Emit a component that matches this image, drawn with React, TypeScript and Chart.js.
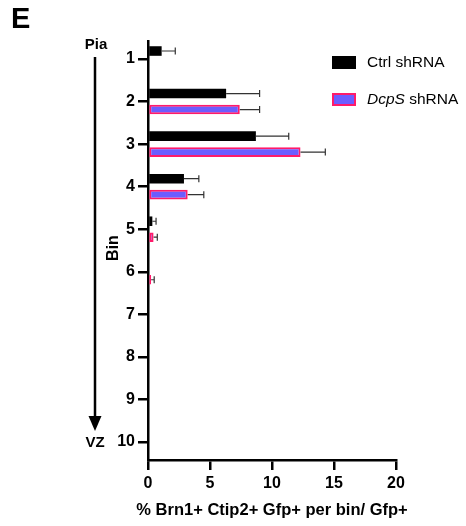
import React, { useEffect, useRef } from 'react';
import { Chart, registerables } from 'chart.js';

Chart.register(...registerables);

const bins = [1, 2, 3, 4, 5, 6, 7, 8, 9, 10];
const ctrlMean: (number | null)[] = [1.1, 6.3, 8.7, 2.9, 0.35, null, null, null, null, null];
const ctrlErr: number[] = [1.1, 2.7, 2.65, 1.2, 0.3, 0, 0, 0, 0, 0];
const dcpsMean: (number | null)[] = [null, 7.4, 12.3, 3.2, 0.45, 0.25, null, null, null, null];
const dcpsErr: number[] = [0, 1.6, 2.0, 1.3, 0.3, 0.25, 0, 0, 0, 0];
const xTicks = [0, 5, 10, 15, 20];
const seriesNames = ['Ctrl shRNA', 'DcpS shRNA'];
const xTitle = '% Brn1+ Ctip2+ Gfp+ per bin/ Gfp+';

const FONT = '"Liberation Sans", Arial, sans-serif';
const DCPS_FILL = '#6c5cff';
const DCPS_BORDER = '#ff1a6a';

function toPoints(means: (number | null)[]) {
  const pts: { x: number; y: number }[] = [];
  means.forEach((m, i) => {
    if (m !== null) pts.push({ x: m, y: bins[i] });
  });
  return pts;
}

const errorBarPlugin = {
  id: 'errorBars',
  afterDatasetsDraw(chart: any) {
    const ctx = chart.ctx;
    const xs = chart.scales.x;
    const errs = [ctrlErr, dcpsErr];
    chart.data.datasets.forEach((ds: any, di: number) => {
      const meta = chart.getDatasetMeta(di);
      meta.data.forEach((el: any, j: number) => {
        const pt = ds.data[j];
        const binIdx = bins.indexOf(pt.y);
        const e = errs[di][binIdx];
        if (!e) return;
        const x0 = xs.getPixelForValue(pt.x);
        const x1 = xs.getPixelForValue(pt.x + e);
        const y = el.y;
        ctx.save();
        ctx.strokeStyle = '#333';
        ctx.lineWidth = 1.2;
        ctx.beginPath();
        ctx.moveTo(x0, y);
        ctx.lineTo(x1, y);
        ctx.moveTo(x1, y - 3.5);
        ctx.lineTo(x1, y + 3.5);
        ctx.stroke();
        ctx.restore();
      });
    });
  },
};

const annotationPlugin = {
  id: 'annotations',
  afterDraw(chart: any) {
    const ctx = chart.ctx;
    const area = chart.chartArea;
    ctx.save();
    // Panel letter
    ctx.fillStyle = '#000';
    ctx.font = `bold 29px ${FONT}`;
    ctx.textAlign = 'left';
    ctx.textBaseline = 'alphabetic';
    ctx.fillText('E', 11, 28);

    // X axis title
    ctx.font = `bold 16.5px ${FONT}`;
    ctx.textAlign = 'center';
    ctx.textBaseline = 'middle';
    ctx.fillText(xTitle, (area.left + area.right) / 2, 510);

    // Pia / VZ arrow
    ctx.font = `bold 15px ${FONT}`;
    ctx.fillText('Pia', 96, 45);
    ctx.fillText('VZ', 95, 443);
    ctx.strokeStyle = '#000';
    ctx.lineWidth = 2.5;
    ctx.beginPath();
    ctx.moveTo(95, 57);
    ctx.lineTo(95, 418);
    ctx.stroke();
    ctx.beginPath();
    ctx.moveTo(88.5, 416);
    ctx.lineTo(101.5, 416);
    ctx.lineTo(95, 431);
    ctx.closePath();
    ctx.fill();

    // Bin label (rotated)
    ctx.save();
    ctx.translate(114, 248);
    ctx.rotate(-Math.PI / 2);
    ctx.font = `bold 16px ${FONT}`;
    ctx.fillText('Bin', 0, 0);
    ctx.restore();

    // Legend
    ctx.fillStyle = '#000';
    ctx.fillRect(332, 56, 24, 13);
    ctx.fillStyle = DCPS_FILL;
    ctx.fillRect(332, 93, 24, 13);
    ctx.strokeStyle = DCPS_BORDER;
    ctx.lineWidth = 2;
    ctx.strokeRect(333, 94, 22, 11);
    ctx.fillStyle = '#000';
    ctx.textAlign = 'left';
    ctx.textBaseline = 'middle';
    ctx.font = `15.5px ${FONT}`;
    ctx.fillText(seriesNames[0], 367, 63);
    ctx.font = `italic 15.5px ${FONT}`;
    ctx.fillText('DcpS', 367, 100);
    const w = ctx.measureText('DcpS ').width;
    ctx.font = `15.5px ${FONT}`;
    ctx.fillText('shRNA', 367 + w, 100);
    ctx.restore();
  },
};

export default function App() {
  const ref = useRef<HTMLCanvasElement | null>(null);
  useEffect(() => {
    if (!ref.current) return;
    const chart = new Chart(ref.current, {
      type: 'bar',
      data: {
        datasets: [
          {
            label: seriesNames[0],
            data: toPoints(ctrlMean) as any,
            backgroundColor: '#000',
            borderWidth: 0,
          },
          {
            label: seriesNames[1],
            data: toPoints(dcpsMean) as any,
            backgroundColor: DCPS_FILL,
            borderColor: DCPS_BORDER,
            borderWidth: 2,
            borderSkipped: false,
          },
        ],
      },
      options: {
        indexAxis: 'y',
        responsive: false,
        animation: false,
        layout: { padding: { top: 41, right: 70, left: 0, bottom: 0 } },
        datasets: { bar: { categoryPercentage: 0.75, barPercentage: 0.6, grouped: true } },
        plugins: { legend: { display: false }, tooltip: { enabled: false } },
        scales: {
          y: {
            type: 'linear',
            reverse: true,
            offset: false,
            min: 0.577,
            max: 10.423,
            afterBuildTicks: (scale: any) => {
              scale.ticks = bins.map((v) => ({ value: v }));
            },
            afterFit: (scale: any) => {
              scale.width = 148;
            },
            ticks: {
              color: '#000',
              font: { family: FONT, size: 16, weight: 'bold' },
              padding: 3,
              callback: (v: any) => String(v),
            },
            grid: { offset: false, drawOnChartArea: false, drawTicks: true, tickLength: 10, lineWidth: 2.5, color: '#000' },
            border: { display: true, width: 2.5, color: '#000' },
          },
          x: {
            type: 'linear',
            min: 0,
            max: 20,
            afterBuildTicks: (scale: any) => {
              scale.ticks = xTicks.map((v) => ({ value: v }));
            },
            afterFit: (scale: any) => {
              scale.height = 66;
            },
            ticks: {
              color: '#000',
              font: { family: FONT, size: 16, weight: 'bold' },
              padding: 4,
              maxRotation: 0,
              callback: (v: any) => String(v),
            },
            grid: { drawOnChartArea: false, drawTicks: true, tickLength: 10, lineWidth: 2.5, color: '#000' },
            border: { display: true, width: 2.5, color: '#000' },
            title: { display: false },
          },
        },
      } as any,
      plugins: [errorBarPlugin, annotationPlugin],
    });
    return () => chart.destroy();
  }, []);
  return (
    <div style={{ position: 'absolute', left: 0, top: 0, width: 466, height: 526, background: '#fff' }}>
      <canvas ref={ref} width={466} height={526} style={{ display: 'block' }} />
    </div>
  );
}
